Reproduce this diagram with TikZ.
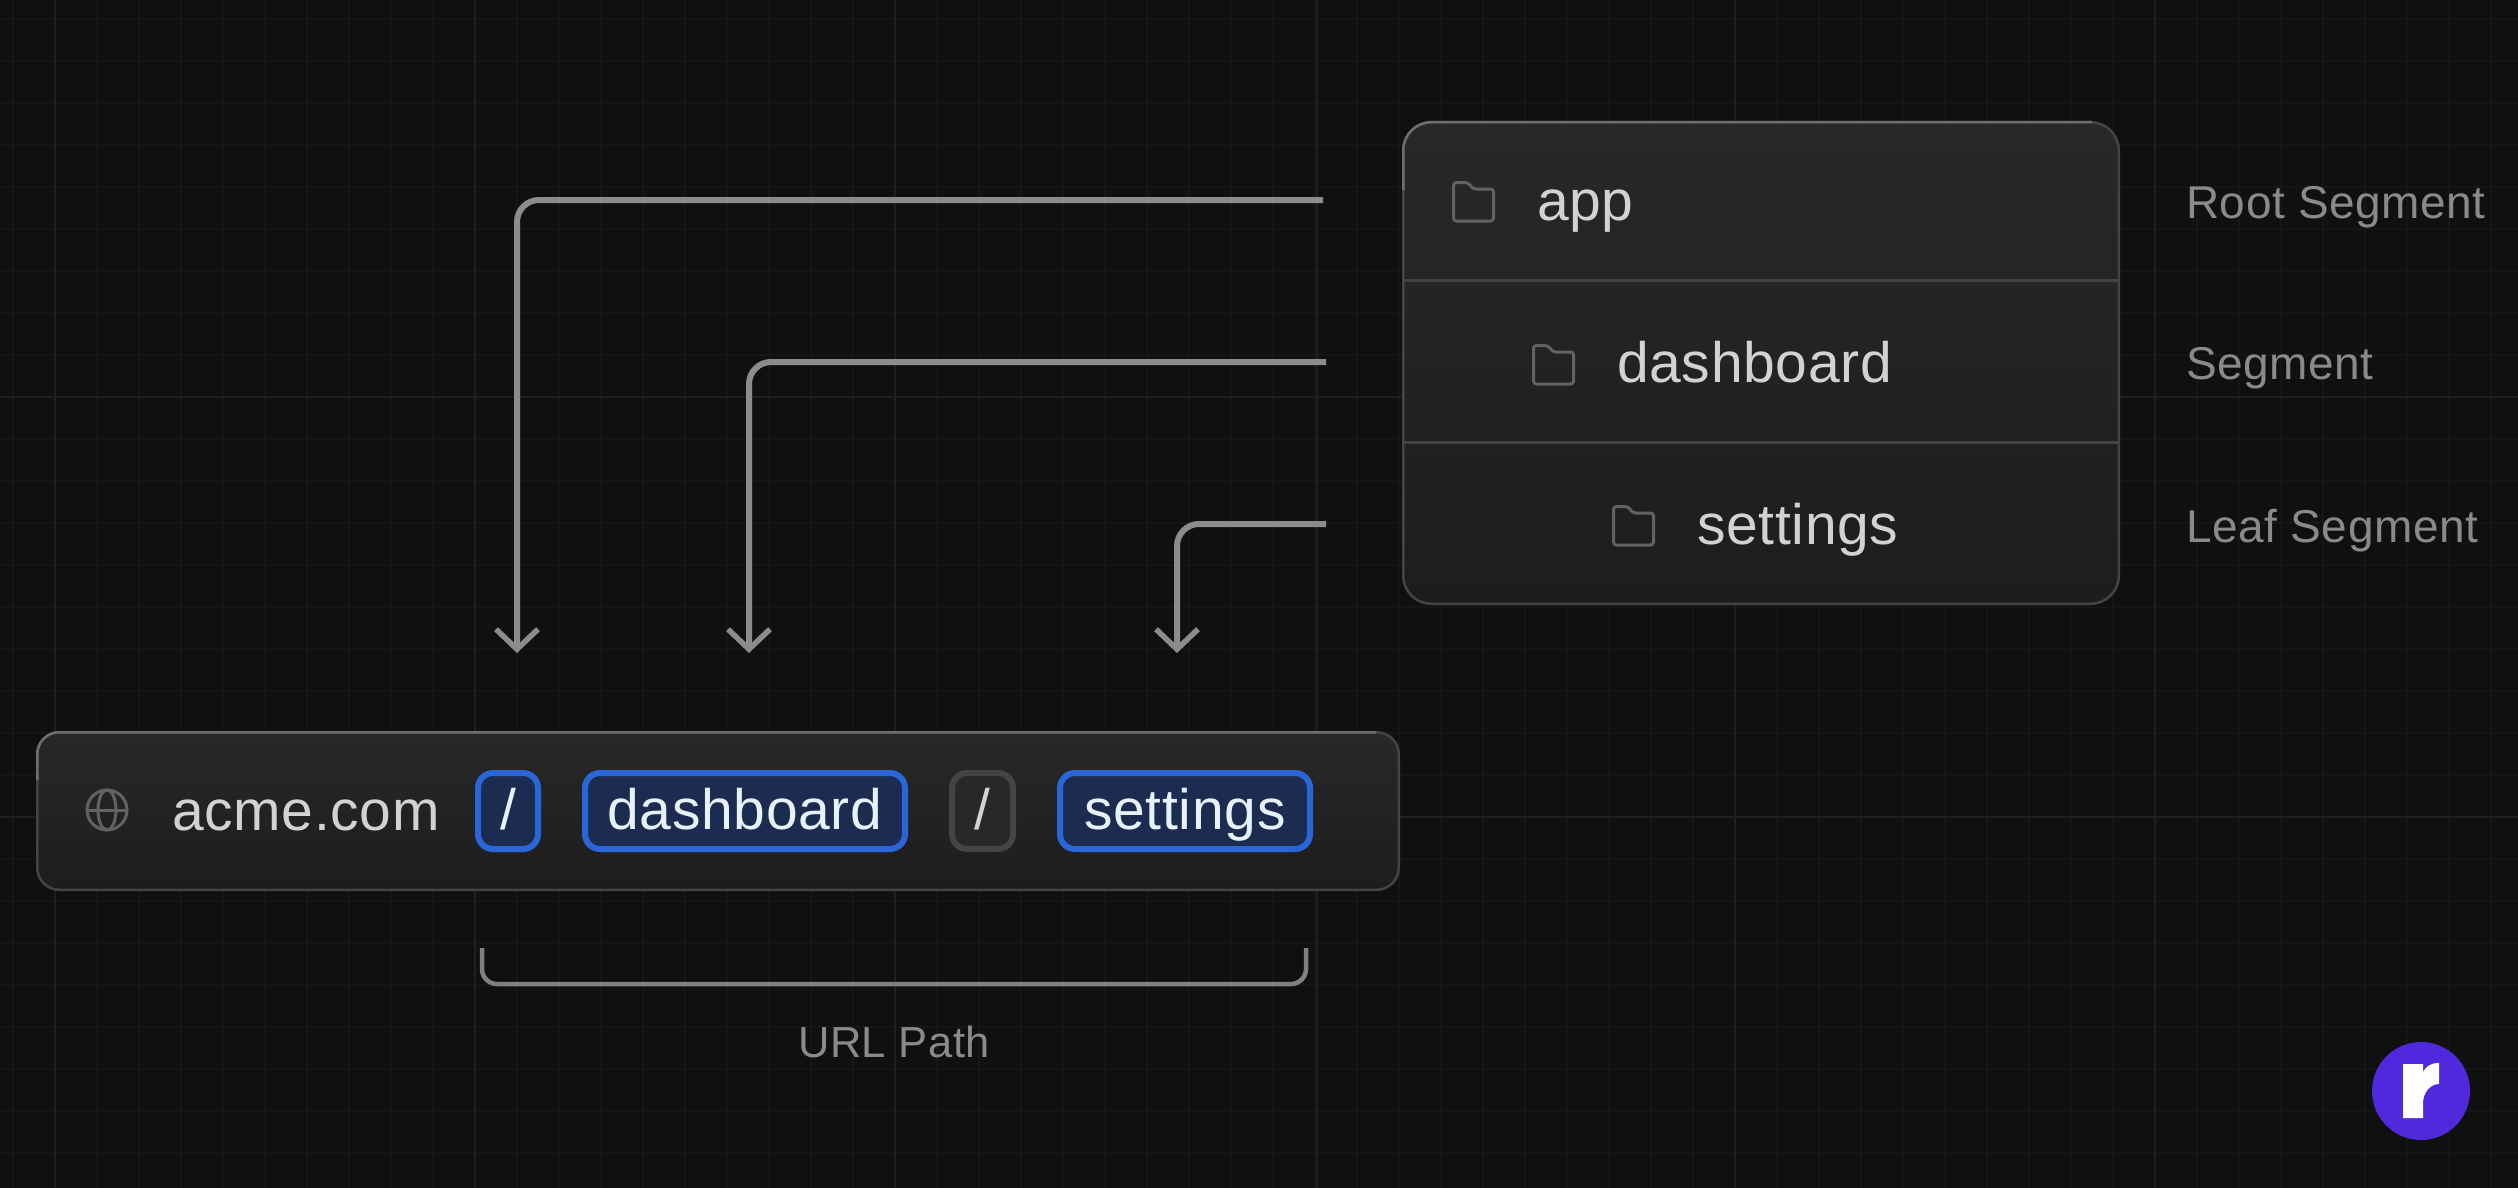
\documentclass[tikz,border=0pt]{standalone}
\usepackage{fontspec}
\setmainfont[LetterSpace=1.2]{Liberation Sans}
\usepackage{tikz}
\usetikzlibrary{arrows.meta,positioning}

\definecolor{pagebg}{HTML}{101011}
\definecolor{gridfine}{HTML}{161617}
\definecolor{gridmajor}{HTML}{1F1F20}
\definecolor{boxtop}{HTML}{282829}
\definecolor{boxbottom}{HTML}{1D1D1E}
\definecolor{boxline}{HTML}{444445}
\definecolor{boxlight}{HTML}{6E6E6E}
\definecolor{linkgrey}{HTML}{8C8C8C}
\definecolor{bracketgrey}{HTML}{808080}
\definecolor{maintext}{HTML}{D2D2D2}
\definecolor{softtext}{HTML}{8A8A8A}
\definecolor{icongrey}{HTML}{626262}
\definecolor{pillblue}{HTML}{2B66D8}
\definecolor{pillfill}{HTML}{1C2C50}
\definecolor{pilltext}{HTML}{E8F1FF}
\definecolor{logoviolet}{HTML}{5029DC}

\tikzset{
  folder/.pic={
    \draw[icongrey,line width=3pt,rounded corners=3pt] (1.5,40) -- (1.5,1.5) -- (16,1.5) -- (21,8) -- (41.5,8) -- (41.5,40) -- cycle;
  }
}

\begin{document}
\begin{tikzpicture}[x=1pt,y=-1pt]
\tikzstyle{boxed}=[rectangle,draw=boxline,line width=2.5pt,top color=boxtop,bottom color=boxbottom,inner sep=0pt,outer sep=0pt,anchor=north west]
\tikzstyle{rowtext}=[inner sep=0pt,anchor=base west,text=maintext,font=\fontsize{57}{60}\selectfont]
\tikzstyle{sidetext}=[inner sep=0pt,anchor=base west,text=softtext,font=\fontsize{46}{50}\selectfont]
\tikzstyle{pill}=[rectangle,rounded corners=15pt,draw=pillblue,line width=6pt,fill=pillfill,text=pilltext,inner xsep=0pt,inner ysep=11pt,text height=45pt,text depth=9pt,font=\fontsize{57}{60}\selectfont]
\tikzstyle{greypill}=[pill,draw=boxline,fill=boxtop,text=maintext]
\tikzstyle{link}=[linkgrey,line width=6pt,rounded corners=22pt,-{Straight Barb[length=20pt,width=42pt,line width=5.5pt]}]
\tikzstyle{divider}=[boxline,line width=3pt]
\tikzstyle{icon}=[icongrey,line width=3pt]

% background
\fill[pagebg] (0,0) rectangle (2518,1188);
\useasboundingbox (0,0) rectangle (2518,1188);
\foreach \gx in {13,55,...,2518}
  \draw[gridfine,line width=1.5pt] (\gx,0) -- (\gx,1188);
\foreach \gy in {19,61,...,1188}
  \draw[gridfine,line width=1.5pt] (0,\gy) -- (2518,\gy);
\foreach \gx in {55,475,895,1317,1735,2155}
  \draw[gridmajor,line width=1.5pt] (\gx,0) -- (\gx,1188);
\foreach \gy in {397,817}
  \draw[gridmajor,line width=1.5pt] (0,\gy) -- (2518,\gy);

% folder card
\node[boxed,rounded corners=28pt,minimum width=715.5pt,minimum height=481.5pt] (card) at (1403.25,122.25) {};
\draw[boxlight,line width=2.5pt,rounded corners=28pt] (1403.25,190) -- (1403.25,122.25) -- (2092,122.25);
\draw[divider] (card.west |- 0,280) coordinate (rowa) -- (card.east |- 0,280) coordinate (rowaend);
\draw[divider] (card.west |- 0,442) coordinate (rowb) -- (card.east |- 0,442) coordinate (rowbend);
\pic at (1452,181) {folder};
\pic at (1532,344) {folder};
\pic at (1612,505) {folder};
\node[rowtext] (app) at (1537,220) {app};
\node[rowtext] (dash) at (1617,382) {dashboard};
\node[rowtext] (sett) at (1697,544) {settings};
\node[sidetext] (root) at (2186,218) {Root Segment};
\node[sidetext] (seg) at (2186,379) {Segment};
\node[sidetext] (leaf) at (2186,542) {Leaf Segment};

% url bar
\node[boxed,rounded corners=22pt,minimum width=1361.5pt,minimum height=157.5pt] (bar) at (37.25,732.25) {};
\draw[boxlight,line width=2.5pt,rounded corners=22pt] (37.25,780) -- (37.25,732.25) -- (1376,732.25);
\draw[icon] (107,810) circle (20pt);
\draw[icon] (107,810) ellipse (9pt and 20pt);
\draw[icon] (87,810) -- (127,810);
\node[rowtext] (host) at (172,830) {acme.com};
\node[pill,minimum width=60pt] (slasha) at (508,811) {/};
\node[pill,minimum width=320pt,right=41pt of slasha] (dashpill) {dashboard};
\node[greypill,minimum width=61pt,right=41pt of dashpill] (slashb) {/};
\node[pill,minimum width=250pt,right=41pt of slashb] (settpill) {settings};

% links
\coordinate (appstart) at (1323,200);
\coordinate (append) at (517,653);
\coordinate (dashstart) at (1326,362);
\coordinate (dashend) at (749,653);
\coordinate (settstart) at (1326,524);
\coordinate (settend) at (1177,653);
\draw[link] (appstart) -| (append);
\draw[link] (dashstart) -| (dashend);
\draw[link] (settstart) -| (settend);

% bracket
\coordinate (brleft) at (482,948);
\coordinate (brright) at (1306,948);
\coordinate (brlow) at (894,984);
\draw[bracketgrey,line width=4.5pt,rounded corners=15pt] (brleft) |- (brlow) -| (brright);
\node[sidetext,anchor=base,font=\fontsize{43.5}{50}\selectfont] (urlpath) at (894,1057) {URL Path};

% logo
\fill[logoviolet] (2421,1091) circle (49pt);
\fill[white] (2403,1064) -- (2423,1064) -- (2423,1072) .. controls (2426,1066) and (2431,1063) .. (2439,1063) -- (2439,1084) .. controls (2430,1084) and (2423,1093) .. (2423,1103) -- (2423,1118) -- (2403,1118) -- cycle;
\end{tikzpicture}
\end{document}
